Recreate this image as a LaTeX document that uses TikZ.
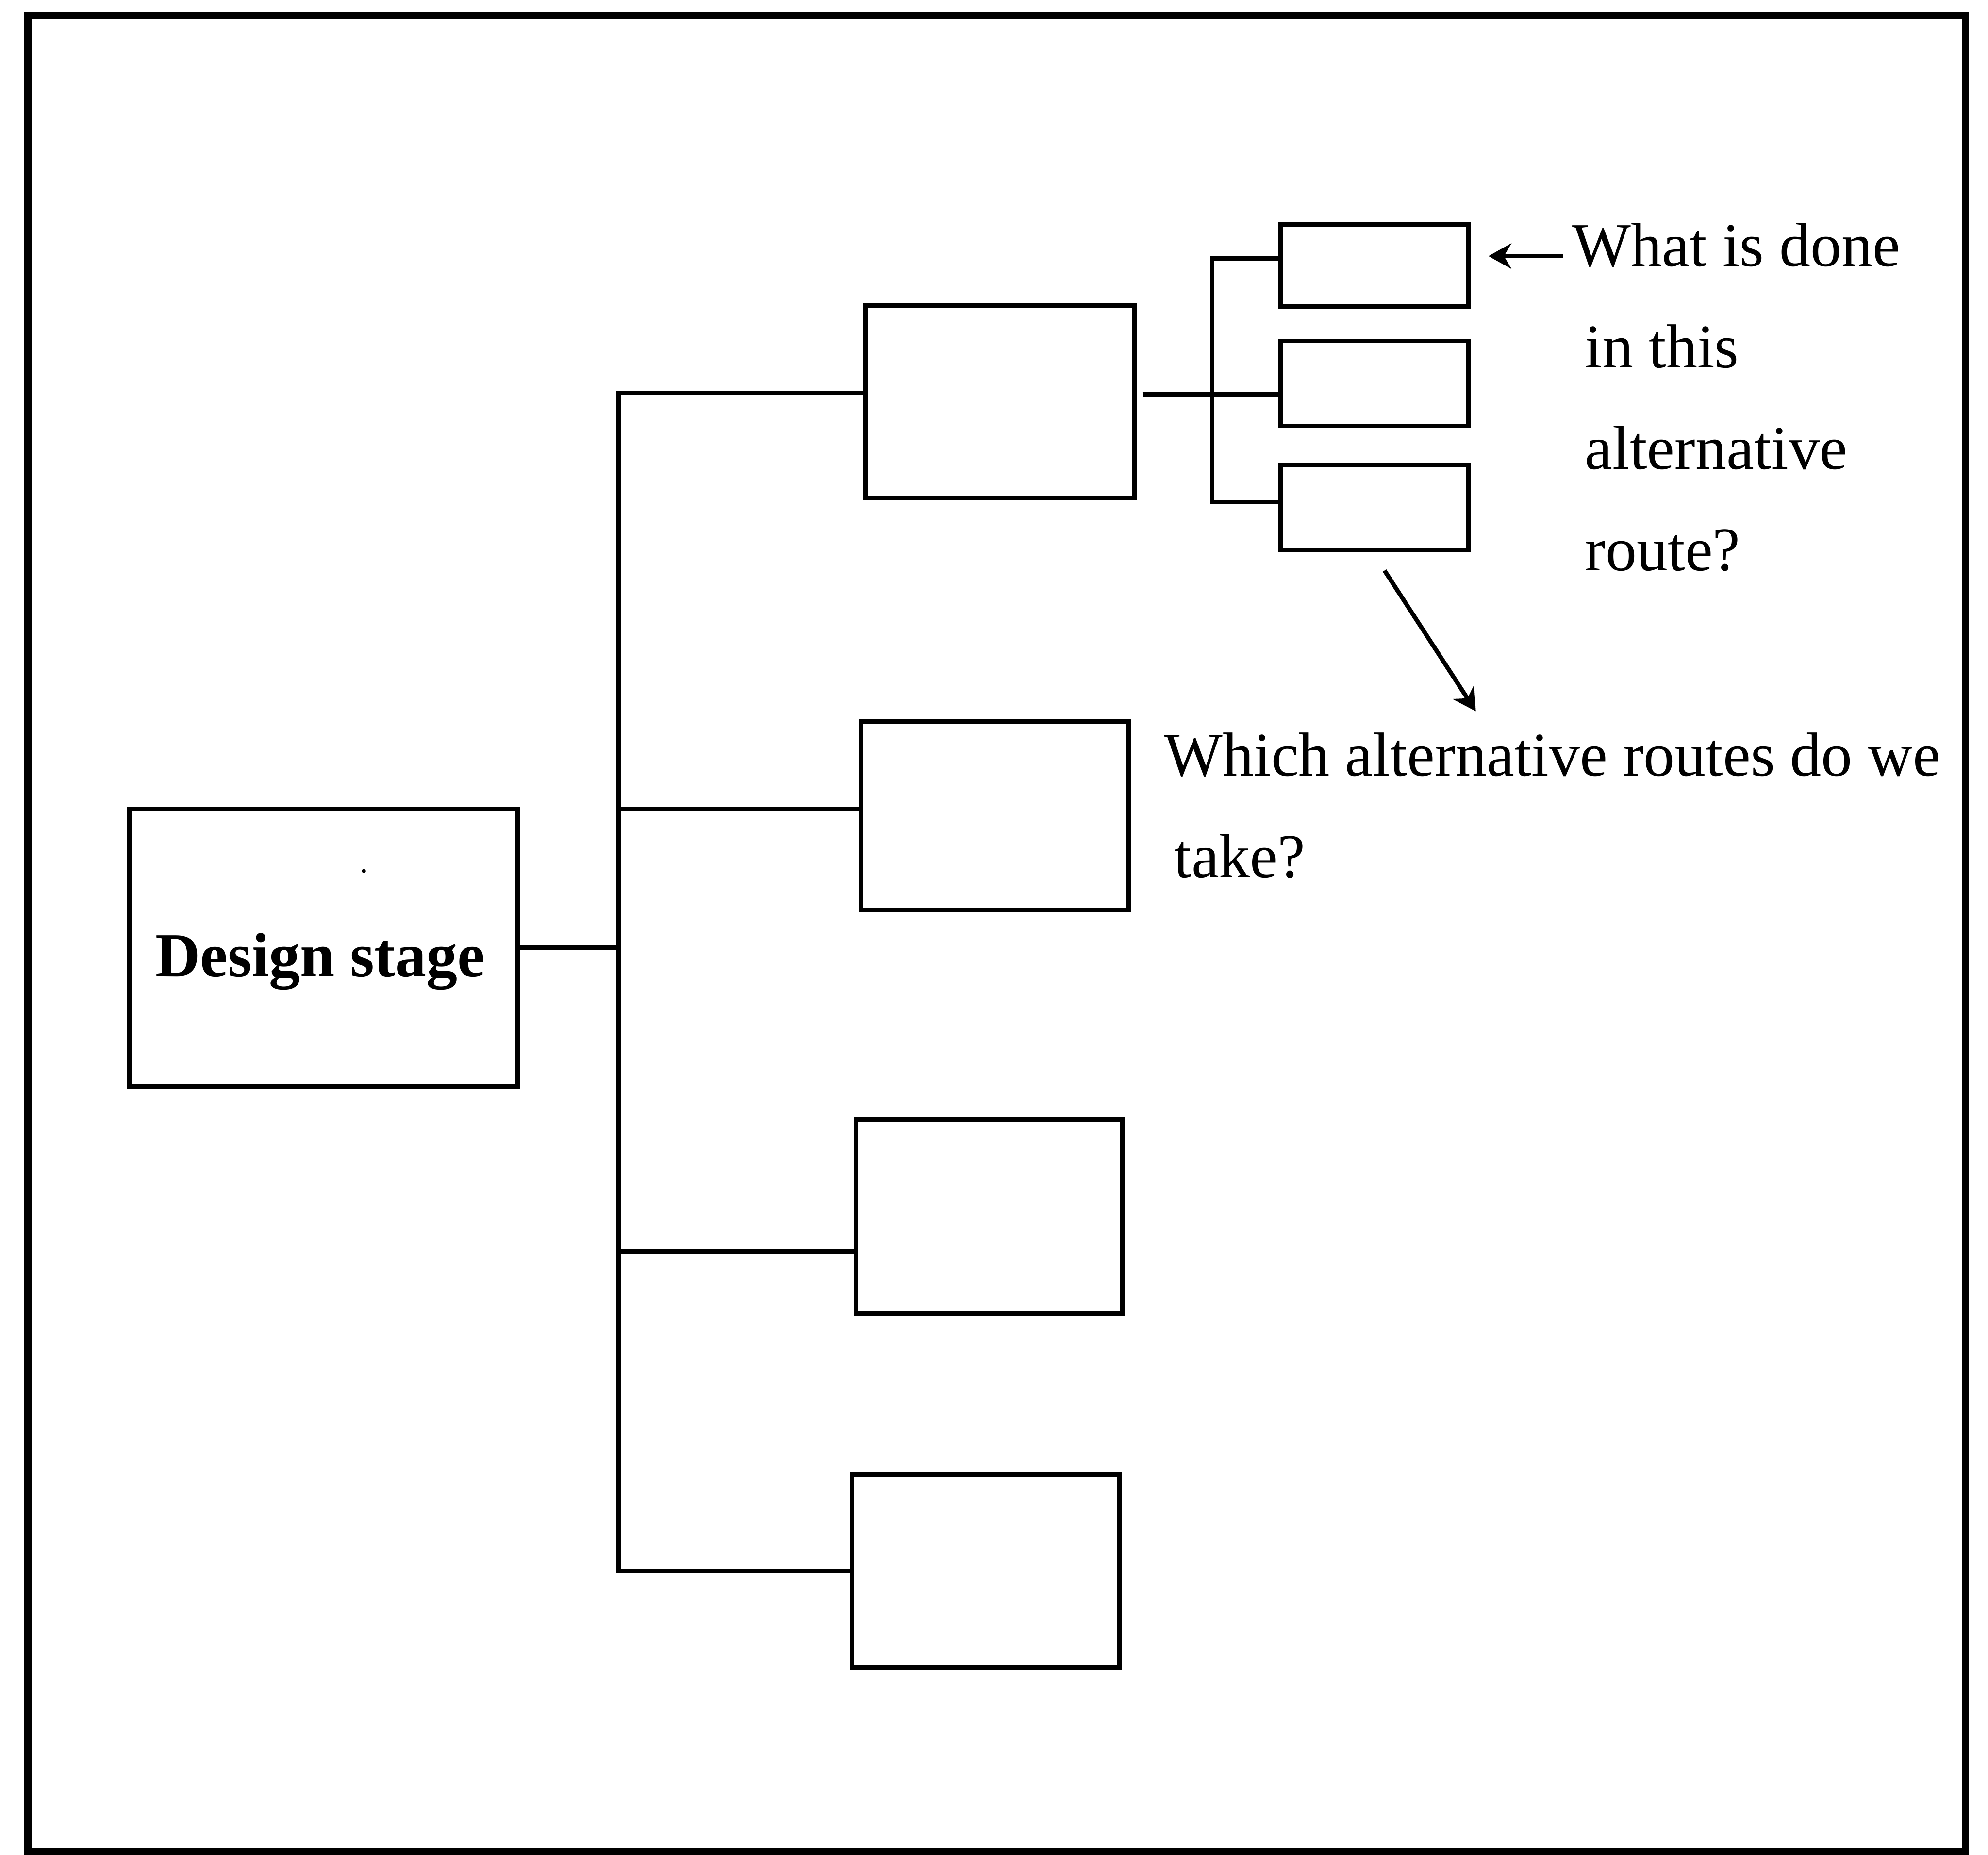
\documentclass[tikz,border=0pt]{standalone}
\usepackage{fontspec}
\setmainfont{Liberation Serif}
\usetikzlibrary{arrows.meta}
\begin{document}
\begin{tikzpicture}[x=1pt,y=-1pt,
  box/.style={draw, line width=3.6pt, inner sep=0pt, anchor=center},
  txt/.style={inner sep=0pt, anchor=base west, font=\fontsize{49}{49}\selectfont},
  link/.style={line width=3.4pt},
  arr/.style={line width=3.4pt, -{Stealth[length=18pt,width=20pt]}}
]
\useasboundingbox (0,0) rectangle (1568,1463);
\node[draw, line width=5.5pt, inner sep=0pt, minimum width=1528pt, minimum height=1448pt] (frame) at (786,736) {};

\node[box, minimum width=306pt, minimum height=219pt] (design) at (255,747.5) {};
\node[inner sep=0pt, anchor=base, font=\fontsize{49}{49}\selectfont\bfseries] (dtext) at (252.5,770) {Design stage};
\fill (287,687) circle (1.6pt);

\node[box, minimum width=212pt, minimum height=152pt] (A) at (789,317) {};
\node[box, minimum width=211pt, minimum height=149pt] (B) at (784.5,643.5) {};
\node[box, minimum width=210pt, minimum height=153pt] (C) at (780,959.5) {};
\node[box, minimum width=211pt, minimum height=152pt] (D) at (777.5,1239) {};

\node[box, minimum width=148pt, minimum height=65pt] (s1) at (1084,209.5) {};
\node[box, minimum width=148pt, minimum height=67pt] (s2) at (1084,302.5) {};
\node[box, minimum width=148pt, minimum height=67pt] (s3) at (1084,400.5) {};

% trunk
\coordinate (tA) at (488,310);
\coordinate (tB) at (488,638);
\coordinate (tC) at (488,987);
\coordinate (tD) at (488,1239);
\draw[link] (tA -| A.west) -- (tA) -- (tD) -- (tD -| D.west);
\draw[link] (design.east) -- (design.east -| tA);
\draw[link] (tB) -- (tB -| B.west);
\draw[link] (tC) -- (tC -| C.west);

% small branch
\coordinate (a1) at (901,311);
\coordinate (v1) at (956,204);
\coordinate (v3) at (956,396);
\draw[link] (a1) -- (a1 -| s2.west);
\draw[link] (v1 -| s1.west) -- (v1) -- (v3) -- (v3 -| s3.west);

% texts
\node[txt] (q1) at (1240,210) {What is done};
\node[txt] (q2) at (1250,290) {in this};
\node[txt] (q3) at (1250,370) {alternative};
\node[txt] (q4) at (1250,450) {route?};
\node[txt] (w1) at (918,612) {Which alternative routes do we};
\node[txt] (w2) at (926,692) {take?};

% arrows
\coordinate (h1s) at (1233,202);
\coordinate (h1e) at (1174,202);
\draw[arr] (h1s) -- (h1e);
\coordinate (h2s) at (1092,450);
\coordinate (h2e) at (1164,561);
\draw[arr] (h2s) -- (h2e);
\end{tikzpicture}
\end{document}
